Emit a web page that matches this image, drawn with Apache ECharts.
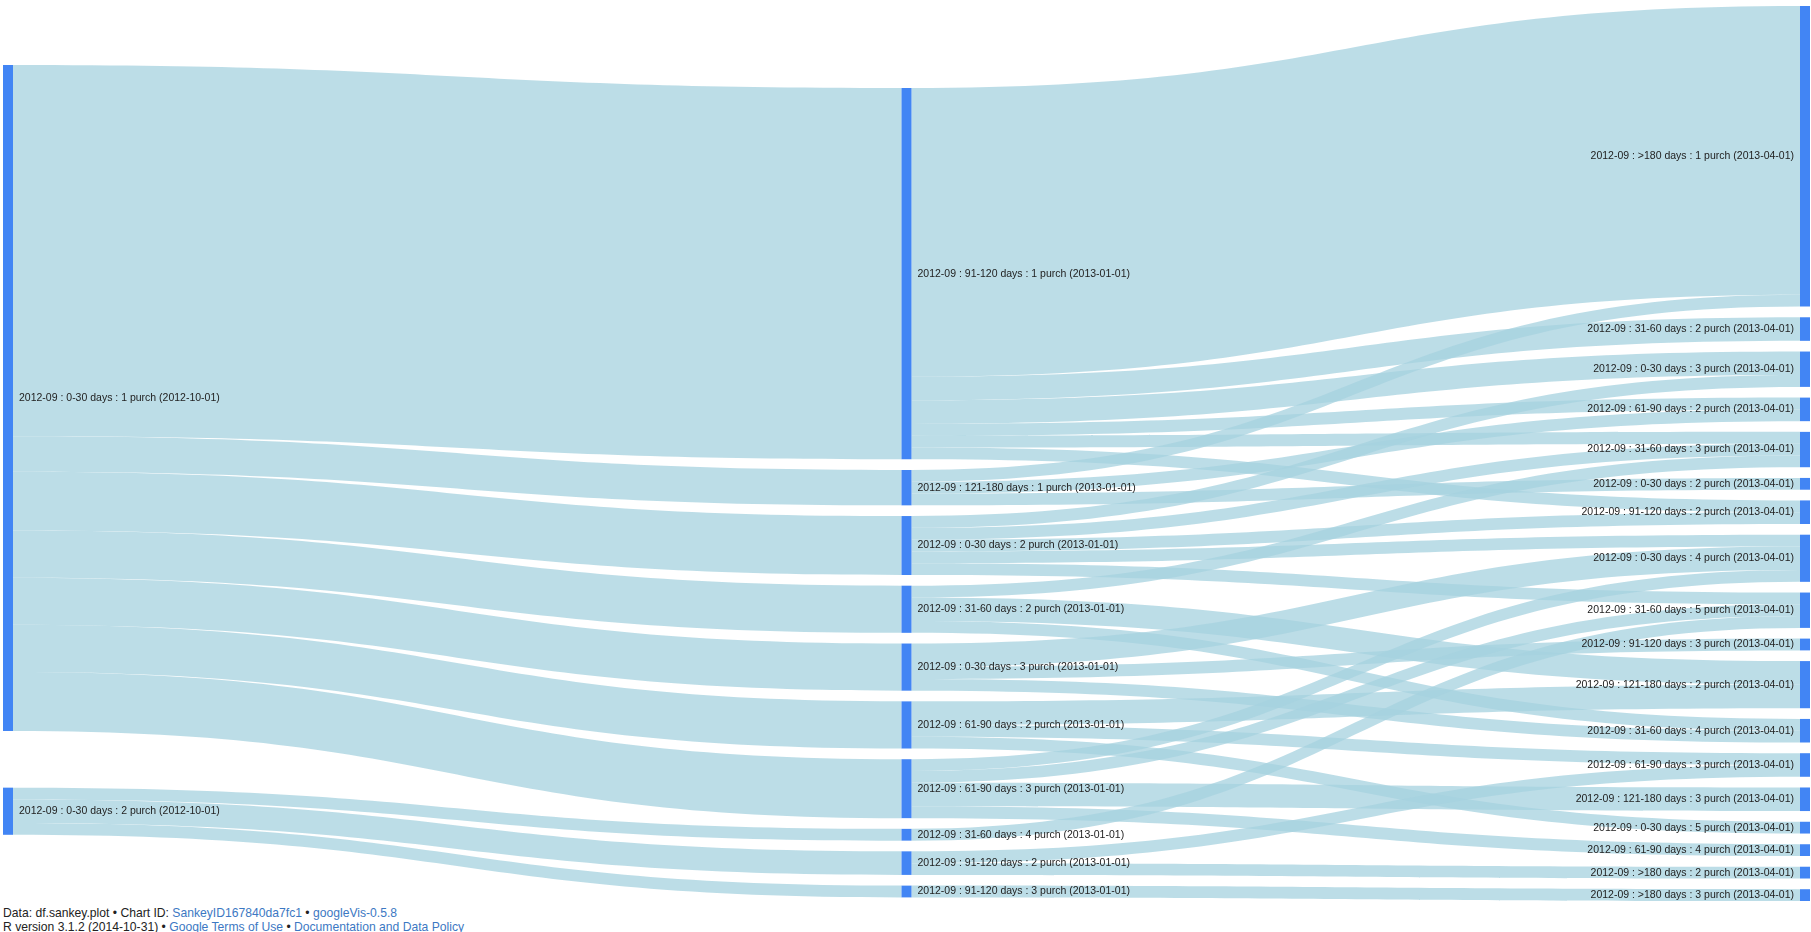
<!DOCTYPE html>
<html>
<head>
<meta charset="utf-8">
<script src="https://cdn.jsdelivr.net/npm/echarts@6/dist/echarts.min.js"></script>
<style>
  html, body { margin: 0; padding: 0; background: #ffffff; }
  #chart { width: 1811px; height: 906px; }
  #foot { font-family: 'Liberation Sans', Arial, sans-serif; font-size: 12.15px; line-height: 14px; color: #222; padding-left: 3px; white-space: nowrap; }
  #foot a { color: #3c78c3; text-decoration: none; }
</style>
</head>
<body>
<div id="chart"></div>
<div id="foot">Data: df.sankey.plot &#8226; Chart ID: <a href="#">SankeyID167840da7fc1</a> &#8226; <a href="#">googleVis-0.5.8</a><br>R version 3.1.2 (2014-10-31) &#8226; <a href="#">Google Terms of Use</a> &#8226; <a href="#">Documentation and Data Policy</a></div>
<script>
// ---- Data ----
const columnLeft = [
  '2012-09 : 0-30 days : 1 purch (2012-10-01)',
  '2012-09 : 0-30 days : 2 purch (2012-10-01)'
];
const columnMiddle = [
  '2012-09 : 91-120 days : 1 purch (2013-01-01)',
  '2012-09 : 121-180 days : 1 purch (2013-01-01)',
  '2012-09 : 0-30 days : 2 purch (2013-01-01)',
  '2012-09 : 31-60 days : 2 purch (2013-01-01)',
  '2012-09 : 0-30 days : 3 purch (2013-01-01)',
  '2012-09 : 61-90 days : 2 purch (2013-01-01)',
  '2012-09 : 61-90 days : 3 purch (2013-01-01)',
  '2012-09 : 31-60 days : 4 purch (2013-01-01)',
  '2012-09 : 91-120 days : 2 purch (2013-01-01)',
  '2012-09 : 91-120 days : 3 purch (2013-01-01)'
];
const columnRight = [
  '2012-09 : >180 days : 1 purch (2013-04-01)',
  '2012-09 : 31-60 days : 2 purch (2013-04-01)',
  '2012-09 : 0-30 days : 3 purch (2013-04-01)',
  '2012-09 : 61-90 days : 2 purch (2013-04-01)',
  '2012-09 : 31-60 days : 3 purch (2013-04-01)',
  '2012-09 : 0-30 days : 2 purch (2013-04-01)',
  '2012-09 : 91-120 days : 2 purch (2013-04-01)',
  '2012-09 : 0-30 days : 4 purch (2013-04-01)',
  '2012-09 : 31-60 days : 5 purch (2013-04-01)',
  '2012-09 : 91-120 days : 3 purch (2013-04-01)',
  '2012-09 : 121-180 days : 2 purch (2013-04-01)',
  '2012-09 : 31-60 days : 4 purch (2013-04-01)',
  '2012-09 : 61-90 days : 3 purch (2013-04-01)',
  '2012-09 : 121-180 days : 3 purch (2013-04-01)',
  '2012-09 : 0-30 days : 5 purch (2013-04-01)',
  '2012-09 : 61-90 days : 4 purch (2013-04-01)',
  '2012-09 : >180 days : 2 purch (2013-04-01)',
  '2012-09 : >180 days : 3 purch (2013-04-01)'
];

// flows: source, target, value
const flowSource = [
  '2012-09 : 0-30 days : 1 purch (2012-10-01)',
  '2012-09 : 0-30 days : 1 purch (2012-10-01)',
  '2012-09 : 0-30 days : 1 purch (2012-10-01)',
  '2012-09 : 0-30 days : 1 purch (2012-10-01)',
  '2012-09 : 0-30 days : 1 purch (2012-10-01)',
  '2012-09 : 0-30 days : 1 purch (2012-10-01)',
  '2012-09 : 0-30 days : 1 purch (2012-10-01)',
  '2012-09 : 0-30 days : 2 purch (2012-10-01)',
  '2012-09 : 0-30 days : 2 purch (2012-10-01)',
  '2012-09 : 0-30 days : 2 purch (2012-10-01)',
  '2012-09 : 91-120 days : 1 purch (2013-01-01)',
  '2012-09 : 91-120 days : 1 purch (2013-01-01)',
  '2012-09 : 91-120 days : 1 purch (2013-01-01)',
  '2012-09 : 91-120 days : 1 purch (2013-01-01)',
  '2012-09 : 91-120 days : 1 purch (2013-01-01)',
  '2012-09 : 91-120 days : 1 purch (2013-01-01)',
  '2012-09 : 121-180 days : 1 purch (2013-01-01)',
  '2012-09 : 121-180 days : 1 purch (2013-01-01)',
  '2012-09 : 121-180 days : 1 purch (2013-01-01)',
  '2012-09 : 0-30 days : 2 purch (2013-01-01)',
  '2012-09 : 0-30 days : 2 purch (2013-01-01)',
  '2012-09 : 0-30 days : 2 purch (2013-01-01)',
  '2012-09 : 0-30 days : 2 purch (2013-01-01)',
  '2012-09 : 0-30 days : 2 purch (2013-01-01)',
  '2012-09 : 31-60 days : 2 purch (2013-01-01)',
  '2012-09 : 31-60 days : 2 purch (2013-01-01)',
  '2012-09 : 31-60 days : 2 purch (2013-01-01)',
  '2012-09 : 0-30 days : 3 purch (2013-01-01)',
  '2012-09 : 0-30 days : 3 purch (2013-01-01)',
  '2012-09 : 0-30 days : 3 purch (2013-01-01)',
  '2012-09 : 61-90 days : 2 purch (2013-01-01)',
  '2012-09 : 61-90 days : 2 purch (2013-01-01)',
  '2012-09 : 61-90 days : 2 purch (2013-01-01)',
  '2012-09 : 61-90 days : 3 purch (2013-01-01)',
  '2012-09 : 61-90 days : 3 purch (2013-01-01)',
  '2012-09 : 61-90 days : 3 purch (2013-01-01)',
  '2012-09 : 61-90 days : 3 purch (2013-01-01)',
  '2012-09 : 31-60 days : 4 purch (2013-01-01)',
  '2012-09 : 91-120 days : 2 purch (2013-01-01)',
  '2012-09 : 91-120 days : 2 purch (2013-01-01)',
  '2012-09 : 91-120 days : 3 purch (2013-01-01)'
];
const flowTarget = [
  '2012-09 : 91-120 days : 1 purch (2013-01-01)',
  '2012-09 : 121-180 days : 1 purch (2013-01-01)',
  '2012-09 : 0-30 days : 2 purch (2013-01-01)',
  '2012-09 : 31-60 days : 2 purch (2013-01-01)',
  '2012-09 : 0-30 days : 3 purch (2013-01-01)',
  '2012-09 : 61-90 days : 2 purch (2013-01-01)',
  '2012-09 : 61-90 days : 3 purch (2013-01-01)',
  '2012-09 : 31-60 days : 4 purch (2013-01-01)',
  '2012-09 : 91-120 days : 2 purch (2013-01-01)',
  '2012-09 : 91-120 days : 3 purch (2013-01-01)',
  '2012-09 : >180 days : 1 purch (2013-04-01)',
  '2012-09 : 31-60 days : 2 purch (2013-04-01)',
  '2012-09 : 0-30 days : 3 purch (2013-04-01)',
  '2012-09 : 61-90 days : 2 purch (2013-04-01)',
  '2012-09 : 31-60 days : 3 purch (2013-04-01)',
  '2012-09 : 91-120 days : 2 purch (2013-04-01)',
  '2012-09 : >180 days : 1 purch (2013-04-01)',
  '2012-09 : 61-90 days : 2 purch (2013-04-01)',
  '2012-09 : 0-30 days : 2 purch (2013-04-01)',
  '2012-09 : 0-30 days : 3 purch (2013-04-01)',
  '2012-09 : 31-60 days : 3 purch (2013-04-01)',
  '2012-09 : 91-120 days : 2 purch (2013-04-01)',
  '2012-09 : 0-30 days : 4 purch (2013-04-01)',
  '2012-09 : 31-60 days : 5 purch (2013-04-01)',
  '2012-09 : 31-60 days : 3 purch (2013-04-01)',
  '2012-09 : 121-180 days : 2 purch (2013-04-01)',
  '2012-09 : 31-60 days : 4 purch (2013-04-01)',
  '2012-09 : 0-30 days : 4 purch (2013-04-01)',
  '2012-09 : 91-120 days : 3 purch (2013-04-01)',
  '2012-09 : 31-60 days : 4 purch (2013-04-01)',
  '2012-09 : 121-180 days : 2 purch (2013-04-01)',
  '2012-09 : 61-90 days : 3 purch (2013-04-01)',
  '2012-09 : 0-30 days : 5 purch (2013-04-01)',
  '2012-09 : 0-30 days : 4 purch (2013-04-01)',
  '2012-09 : 31-60 days : 5 purch (2013-04-01)',
  '2012-09 : 121-180 days : 3 purch (2013-04-01)',
  '2012-09 : 61-90 days : 4 purch (2013-04-01)',
  '2012-09 : 31-60 days : 5 purch (2013-04-01)',
  '2012-09 : 61-90 days : 3 purch (2013-04-01)',
  '2012-09 : >180 days : 2 purch (2013-04-01)',
  '2012-09 : >180 days : 3 purch (2013-04-01)'
];
const flowValue = [
  31.5, 3, 5, 4, 4, 4, 5,
  1, 2, 1,
  24.5, 2, 2, 1, 1, 1,
  1, 1, 1,
  1, 1, 1, 1, 1,
  1, 2, 1,
  2, 1, 1,
  2, 1, 1,
  1, 1, 2, 1,
  1,
  1, 1,
  1
];

// ---- Layout settings (presentation only) ----
const boxTop = 6, boxBottom = 5, boxLeft = 3, boxRight = 1;
const chartH = 906;
const nodeGap = 10.7;
const columnTopOffset = [59, 82, 0];            // empty space above each column (px)
const extraSpaceBefore = {                       // additional empty space above a node (px)
  '2012-09 : 0-30 days : 2 purch (2012-10-01)': 46
};

const links = flowSource.map((s, i) => ({ source: s, target: flowTarget[i], value: flowValue[i] }));

// node value = max(in, out), as the library computes it
function nodeValue(name) {
  let vin = 0, vout = 0;
  links.forEach(l => { if (l.target === name) vin += l.value; if (l.source === name) vout += l.value; });
  return Math.max(vin, vout);
}
const columns = [columnLeft, columnMiddle, columnRight];
const boxH = chartH - boxTop - boxBottom;
const ky = Math.min.apply(null, columns.map(c => {
  const s = c.reduce((a, n) => a + nodeValue(n), 0);
  return (boxH - (c.length - 1) * nodeGap) / s;
}));

let spacerCount = 0;
function spacer(px, depth) {
  spacerCount++;
  return {
    name: 'spacer-' + spacerCount,
    value: (px - nodeGap) / ky,
    depth: depth,
    itemStyle: { opacity: 0 },
    label: { show: false },
    tooltip: { show: false }
  };
}

const nodes = [];
columns.forEach((col, depth) => {
  if (columnTopOffset[depth] > nodeGap) nodes.push(spacer(columnTopOffset[depth], depth));
  col.forEach(n => {
    if (extraSpaceBefore[n] > nodeGap) nodes.push(spacer(extraSpaceBefore[n], depth));
    const item = { name: n, depth: depth };
    if (depth === columns.length - 1) item.label = { position: 'left' };
    nodes.push(item);
  });
});

const chart = echarts.init(document.getElementById('chart'));
chart.setOption({
  backgroundColor: '#ffffff',
  animation: false,
  series: [{
    type: 'sankey',
    left: boxLeft,
    right: boxRight,
    top: boxTop,
    bottom: boxBottom,
    nodeWidth: 10,
    nodeGap: nodeGap,
    nodeAlign: 'left',
    layoutIterations: 0,
    draggable: false,
    emphasis: { disabled: true },
    data: nodes,
    links: links,
    itemStyle: { color: '#4285f4', borderWidth: 0 },
    lineStyle: { color: '#a6d2df', opacity: 0.75, curveness: 0.5 },
    label: {
      show: true,
      position: 'right',
      distance: 6,
      color: '#222222',
      fontSize: 10.5,
      fontFamily: "'Liberation Sans', Arial, sans-serif"
    }
  }]
});
</script>
</body>
</html>
